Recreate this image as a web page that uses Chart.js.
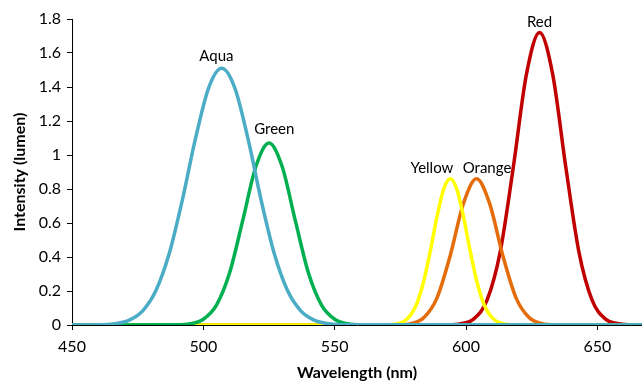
<!DOCTYPE html>
<html lang="en">
<head>
    <meta charset="UTF-8">
    <title>LED Spectra</title>
    <script src="https://cdn.jsdelivr.net/npm/chart.js"></script>
    <style>
        html, body { margin: 0; padding: 0; background: #fff; }
        #wrap { width: 642px; height: 384px; }
    </style>
</head>
<body>
    <div id="wrap"><canvas id="spectrumChart" width="642" height="384"></canvas></div>

    <script>
        // wavelength (nm) and intensity (lumen)
        const seriesNames = ["Aqua", "Green", "Yellow", "Orange", "Red"];

        const aquaX = [450, 462, 467, 472, 477, 482, 487, 492, 497, 502, 507, 512, 517, 522, 527, 532, 537, 542, 547, 552, 667];
        const aquaY = [0, 0.002, 0.009, 0.030, 0.085, 0.204, 0.420, 0.735, 1.096, 1.394, 1.51, 1.394, 1.096, 0.735, 0.420, 0.204, 0.085, 0.030, 0.009, 0.002, 0];

        const greenX = [450, 490, 495, 500, 505, 510, 515, 520, 525, 530, 535, 540, 545, 550, 555, 560, 667];
        const greenY = [0, 0.001, 0.007, 0.034, 0.117, 0.307, 0.615, 0.932, 1.07, 0.932, 0.615, 0.307, 0.117, 0.034, 0.007, 0.001, 0];

        const yellowX = [450, 569, 571.5, 574, 576.5, 579, 581.5, 584, 586.5, 589, 591.5, 594, 596.5, 599, 601.5, 604, 606.5, 609, 611.5, 614, 616.5, 619, 667];
        const yellowY = [0, 0, 0.002, 0.008, 0.023, 0.060, 0.135, 0.263, 0.442, 0.640, 0.799, 0.86, 0.799, 0.640, 0.442, 0.263, 0.135, 0.060, 0.023, 0.008, 0.002, 0, 0];

        const orangeX = [450, 574, 579, 584, 589, 594, 599, 604, 609, 614, 619, 624, 629, 634, 667];
        const orangeY = [0, 0.001, 0.008, 0.044, 0.161, 0.409, 0.714, 0.86, 0.714, 0.409, 0.161, 0.044, 0.008, 0.001, 0];

        const redX = [450, 593, 598, 603, 608, 613, 618, 623, 628, 633, 638, 643, 648, 653, 658, 663, 667];
        const redY = [0, 0.001, 0.007, 0.036, 0.146, 0.429, 0.928, 1.474, 1.72, 1.474, 0.928, 0.429, 0.146, 0.036, 0.007, 0.001, 0];

        // where each name sits (nm, lumen)
        const labelX = [505, 527, 587, 608, 628];
        const labelY = [1.58, 1.15, 0.92, 0.92, 1.78];

        const xTicks = [450, 500, 550, 600, 650];
        const yTicks = [0, 0.2, 0.4, 0.6, 0.8, 1, 1.2, 1.4, 1.6, 1.8];
        const yTickLabels = ["0", "0.2", "0.4", "0.6", "0.8", "1", "1.2", "1.4", "1.6", "1.8"];

        const colors = ["#4bacc6", "#00b050", "#ffff00", "#e46c0a", "#c00000"];
        const allX = [aquaX, greenX, yellowX, orangeX, redX];
        const allY = [aquaY, greenY, yellowY, orangeY, redY];

        const font = "Lato, 'Open Sans', sans-serif";

        const peakLabels = {
            id: "peakLabels",
            afterDatasetsDraw(chart) {
                const ctx = chart.ctx;
                const xs = chart.scales.x, ys = chart.scales.y;
                ctx.save();
                ctx.fillStyle = "#000";
                ctx.font = "15px " + font;
                ctx.textAlign = "center";
                ctx.textBaseline = "middle";
                seriesNames.forEach(function(name, i) {
                    ctx.fillText(name, xs.getPixelForValue(labelX[i]), ys.getPixelForValue(labelY[i]));
                });
                ctx.restore();
            }
        };

        const ctx = document.getElementById("spectrumChart").getContext("2d");
        new Chart(ctx, {
            type: "line",
            data: {
                datasets: seriesNames.map(function(name, i) {
                    return {
                        label: name,
                        data: allX[i].map(function(x, j) { return { x: x, y: allY[i][j] }; }),
                        borderColor: colors[i],
                        borderWidth: 3.5,
                        pointRadius: 0,
                        fill: false,
                        cubicInterpolationMode: "monotone"
                    };
                })
            },
            options: {
                responsive: false,
                animation: false,
                layout: { padding: { top: 19, right: 0, left: 0, bottom: 0 } },
                plugins: {
                    legend: { display: false },
                    tooltip: { enabled: false }
                },
                scales: {
                    x: {
                        type: "linear",
                        min: 450,
                        max: 667,
                        afterBuildTicks: function(scale) {
                            scale.ticks = xTicks.map(function(v) { return { value: v }; });
                        },
                        afterFit: function(scale) { scale.height = 59; },
                        grid: { drawOnChartArea: false, tickLength: 5, color: "#000" },
                        border: { color: "#000", width: 1 },
                        ticks: { color: "#000", font: { family: font, size: 16 }, padding: 7, maxRotation: 0 },
                        title: {
                            display: true,
                            text: "Wavelength (nm)",
                            color: "#000",
                            font: { family: font, size: 16, weight: "bold" },
                            padding: { top: 0, bottom: 2 }
                        }
                    },
                    y: {
                        min: 0,
                        max: 1.8,
                        afterBuildTicks: function(scale) {
                            scale.ticks = yTicks.map(function(v) { return { value: v }; });
                        },
                        afterFit: function(scale) { scale.width = 72; },
                        grid: { drawOnChartArea: false, tickLength: 5, color: "#000" },
                        border: { color: "#000", width: 1 },
                        ticks: {
                            color: "#000",
                            font: { family: font, size: 16 },
                            padding: 6,
                            callback: function(value, index) { return yTickLabels[index]; }
                        },
                        title: {
                            display: true,
                            text: "Intensity (lumen)",
                            color: "#000",
                            font: { family: font, size: 16, weight: "bold" },
                            padding: { top: 10, bottom: 0 }
                        }
                    }
                }
            },
            plugins: [peakLabels]
        });
    </script>
</body>
</html>
